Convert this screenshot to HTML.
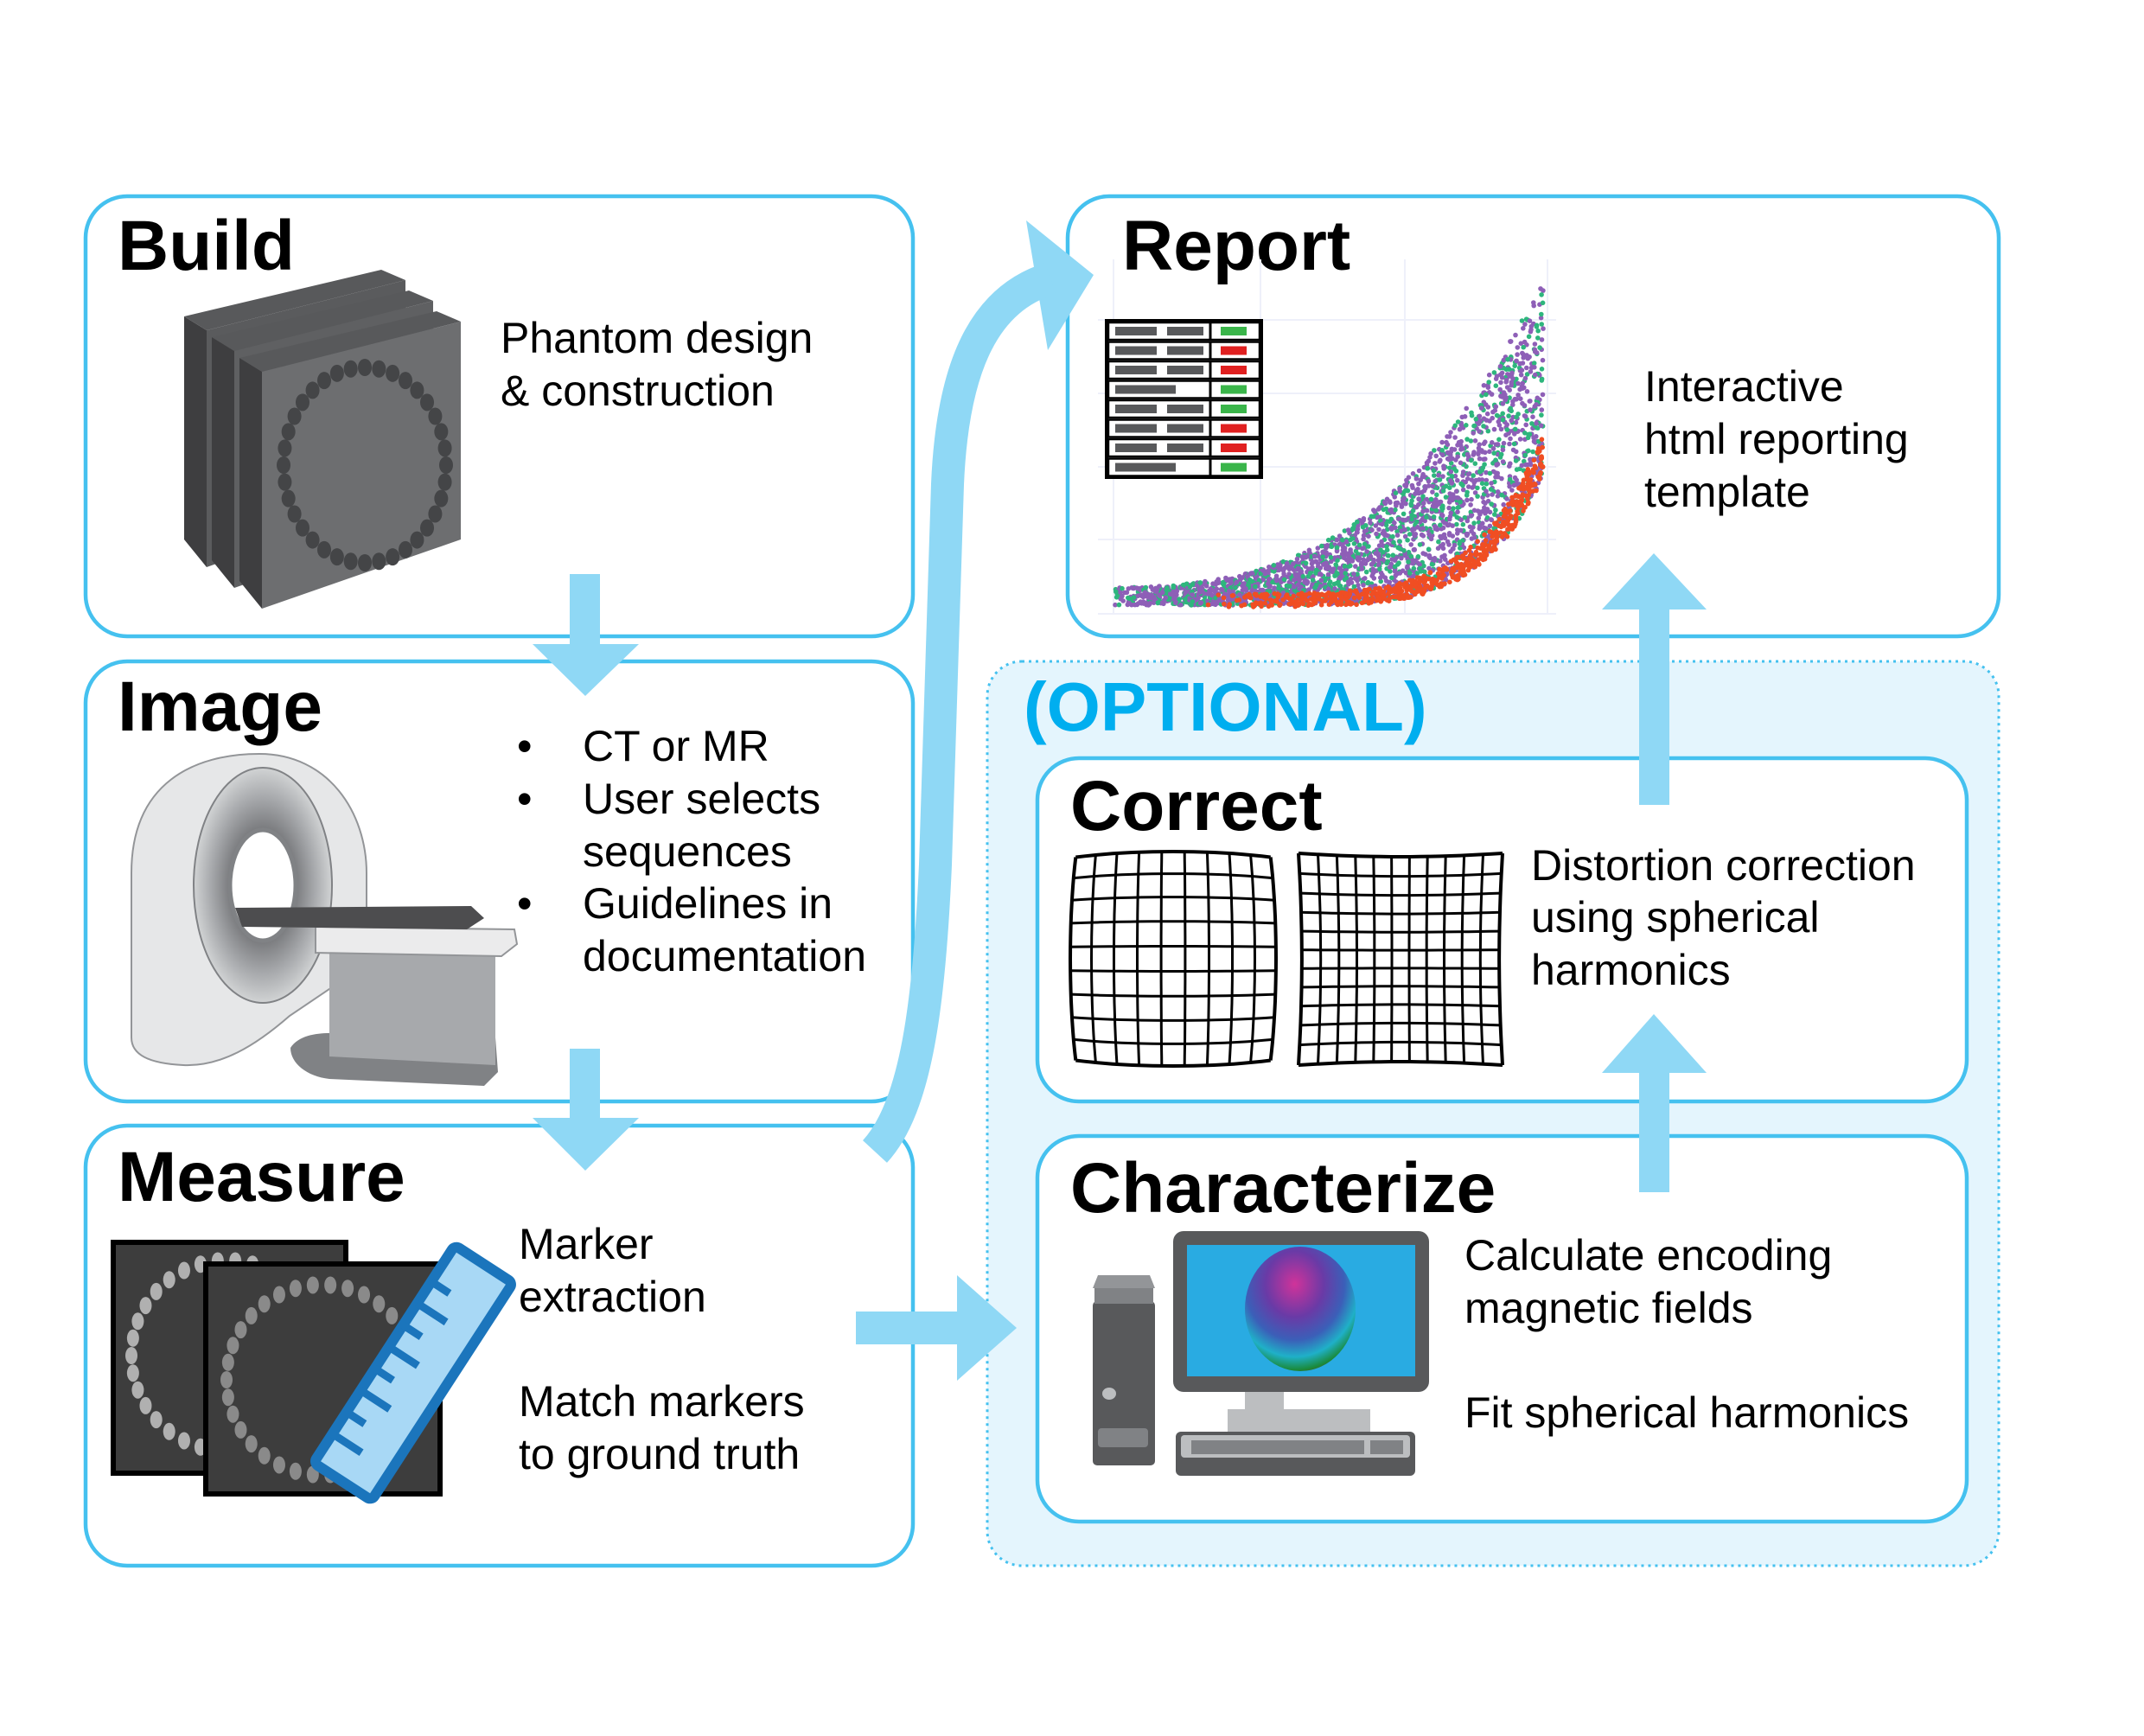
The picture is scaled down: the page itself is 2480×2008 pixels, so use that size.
<!DOCTYPE html>
<html><head><meta charset="utf-8"><style>
html,body{margin:0;padding:0;background:#fff;width:2480px;height:2008px;overflow:hidden}
svg{display:block}
text{font-family:"Liberation Sans",sans-serif;fill:#000}
.t{font-weight:bold;font-size:82px}
.b{font-size:50px}
</style></head><body>
<svg id="s" width="2480" height="2008" viewBox="0 0 2480 2008" xmlns="http://www.w3.org/2000/svg">
<defs>
<radialGradient id="sph" cx="0.45" cy="0.3" r="0.75">
<stop offset="0" stop-color="#d0339a"/><stop offset="0.35" stop-color="#6a3aa6"/><stop offset="0.6" stop-color="#3b5fb8"/><stop offset="0.78" stop-color="#1fb0c8"/><stop offset="0.92" stop-color="#1a8a3a"/><stop offset="1" stop-color="#5a3a20"/>
</radialGradient>
<radialGradient id="ring" cx="0.5" cy="0.5" r="0.5">
<stop offset="0.4" stop-color="#6d6e71"/><stop offset="0.75" stop-color="#a7a9ac"/><stop offset="1" stop-color="#d1d3d4"/>
</radialGradient>
</defs>

<rect x="1142" y="765" width="1170" height="1046" rx="40" fill="#e4f5fd" stroke="#45c1ef" stroke-width="3" stroke-dasharray="3 5"/>

<g fill="#fff" stroke="#45c1ef" stroke-width="4.5">
<rect x="99" y="227" width="957" height="509" rx="48"/>
<rect x="99" y="765" width="957" height="509" rx="48"/>
<rect x="99" y="1302" width="957" height="509" rx="48"/>
<rect x="1235" y="227" width="1077" height="509" rx="48"/>
<rect x="1200" y="877" width="1075" height="397" rx="48"/>
<rect x="1200" y="1314" width="1075" height="446" rx="48"/>
</g>

<g fill="#8fd8f5">
<rect x="659" y="664" width="35" height="82"/><polygon points="616,745 739,745 677,805"/>
<rect x="659" y="1213" width="35" height="82"/><polygon points="616,1293 739,1293 677,1354"/>
<rect x="990" y="1517" width="118" height="38"/><polygon points="1107,1475 1176,1536 1107,1597"/>
<rect x="1896" y="1240" width="35" height="139"/><polygon points="1853,1241 1974,1241 1913,1173"/>
<rect x="1896" y="704" width="35" height="227"/><polygon points="1853,705 1974,705 1913,640"/>
<polygon points="1187,255 1265,318 1212,405"/>
</g>
<path d="M1012,1332 C1060,1280 1075,1160 1082,1000 L1096,560 C1102,420 1140,345 1215,322" fill="none" stroke="#8fd8f5" stroke-width="38"/>

<text class="t" x="136" y="312">Build</text>
<text class="t" x="136" y="845">Image</text>
<text class="t" x="136" y="1389">Measure</text>
<text class="t" x="1298" y="312">Report</text>
<text class="t" x="1184" y="845" style="fill:#00aeef;font-size:80px">(OPTIONAL)</text>
<text class="t" x="1238" y="960">Correct</text>
<text class="t" x="1238" y="1402">Characterize</text>

<text class="b" x="579" y="408">Phantom design</text>
<text class="b" x="579" y="469">&amp; construction</text>
<text class="b" x="598" y="880">•</text><text class="b" x="674" y="880">CT or MR</text>
<text class="b" x="598" y="941">•</text><text class="b" x="674" y="941">User selects</text>
<text class="b" x="674" y="1002">sequences</text>
<text class="b" x="598" y="1062">•</text><text class="b" x="674" y="1062">Guidelines in</text>
<text class="b" x="674" y="1123">documentation</text>
<text class="b" x="600" y="1456">Marker</text>
<text class="b" x="600" y="1517">extraction</text>
<text class="b" x="600" y="1638">Match markers</text>
<text class="b" x="600" y="1699">to ground truth</text>
<text class="b" x="1902" y="464">Interactive</text>
<text class="b" x="1902" y="525">html reporting</text>
<text class="b" x="1902" y="586">template</text>
<text class="b" x="1771" y="1018">Distortion correction</text>
<text class="b" x="1771" y="1078">using spherical</text>
<text class="b" x="1771" y="1139">harmonics</text>
<text class="b" x="1694" y="1469">Calculate encoding</text>
<text class="b" x="1694" y="1530">magnetic fields</text>
<text class="b" x="1694" y="1651">Fit spherical harmonics</text>

<g id="ph"></g>

<path d="M152,1200 L152,1010 C152,905 225,872 300,872 C380,872 424,940 424,1010 L424,1115 L335,1175 C295,1210 255,1234 212,1232 C172,1230 152,1220 152,1200 Z" fill="#e6e7e8" stroke="#939598" stroke-width="2"/>
<ellipse cx="304" cy="1024" rx="80" ry="136" fill="url(#ring)" stroke="#808285" stroke-width="2"/>
<ellipse cx="304" cy="1024" rx="38" ry="64" fill="#fff" stroke="#808285" stroke-width="5"/>
<path d="M336,1212 C345,1198 365,1195 381,1195 L381,1105 L573,1105 L573,1200 L576,1240 L560,1256 L381,1248 C355,1245 336,1230 336,1212 Z" fill="#808285"/>
<polygon points="381,1100 573,1100 573,1232 381,1222" fill="#a7a9ac"/>
<polygon points="365,1072 595,1075 598,1092 580,1106 365,1102" fill="#ebebec" stroke="#939598" stroke-width="2"/>
<polygon points="272,1050 545,1048 560,1062 540,1075 280,1072" fill="#4d4d4f"/>

<rect x="131" y="1437" width="269" height="267" fill="#3d3d3d" stroke="#000" stroke-width="6"/>
<g id="d1"></g>
<rect x="238" y="1462" width="271" height="266" fill="#3d3d3d" stroke="#000" stroke-width="6"/>
<g id="d2"></g>
<g transform="translate(478,1588) rotate(-57)">
<rect x="-150" y="-40" width="300" height="80" rx="6" fill="#a8d8f5" stroke="#1b75bc" stroke-width="12"/>
<g stroke="#1b75bc" stroke-width="9">
<line x1="-110" y1="-40" x2="-110" y2="0"/><line x1="-80" y1="-40" x2="-80" y2="-15"/><line x1="-50" y1="-40" x2="-50" y2="0"/><line x1="-20" y1="-40" x2="-20" y2="-15"/><line x1="10" y1="-40" x2="10" y2="0"/><line x1="40" y1="-40" x2="40" y2="-15"/><line x1="70" y1="-40" x2="70" y2="0"/><line x1="100" y1="-40" x2="100" y2="-15"/>
</g></g>

<g stroke="#eef0fa" stroke-width="2">
<line x1="1288" y1="300" x2="1288" y2="710"/><line x1="1458" y1="300" x2="1458" y2="710"/><line x1="1625" y1="300" x2="1625" y2="710"/><line x1="1790" y1="300" x2="1790" y2="710"/>
<line x1="1270" y1="710" x2="1800" y2="710"/><line x1="1270" y1="624" x2="1800" y2="624"/><line x1="1270" y1="540" x2="1800" y2="540"/><line x1="1270" y1="455" x2="1800" y2="455"/><line x1="1270" y1="370" x2="1800" y2="370"/>
</g>
<g id="sc"></g>
<g id="tb"></g>

<g id="gr" fill="none" stroke="#000" stroke-width="3"></g>

<path d="M1264,1490 L1270,1475 L1330,1475 L1336,1490 Z" fill="#939598"/>
<rect x="1264" y="1505" width="72" height="190" rx="5" fill="#58595b"/>
<rect x="1266" y="1490" width="68" height="18" fill="#808285"/>
<ellipse cx="1283" cy="1612" rx="8" ry="7" fill="#bcbec0"/>
<rect x="1270" y="1652" width="58" height="22" rx="4" fill="#808285"/>
<rect x="1440" y="1600" width="45" height="48" fill="#bcbec0"/>
<rect x="1420" y="1630" width="165" height="28" fill="#bcbec0"/>
<rect x="1357" y="1424" width="296" height="186" rx="12" fill="#58595b"/>
<rect x="1373" y="1440" width="264" height="152" fill="#29abe2"/>
<ellipse cx="1504" cy="1514" rx="64" ry="72" fill="url(#sph)"/>
<rect x="1360" y="1656" width="277" height="51" rx="6" fill="#58595b"/>
<rect x="1366" y="1660" width="265" height="26" rx="4" fill="#bcbec0"/>
<rect x="1378" y="1666" width="200" height="16" fill="#808285"/>
<rect x="1585" y="1666" width="38" height="16" fill="#808285"/>
</svg>
<script>
(function(){
var NS="http://www.w3.org/2000/svg";
function el(p,t,a){var e=document.createElementNS(NS,t);for(var k in a)e.setAttribute(k,a[k]);p.appendChild(e);return e;}
var seed=7;function rnd(){seed=(seed*16807)%2147483647;return seed/2147483647;}
function pts(a){return a.map(function(p){return p[0]+','+p[1]}).join(' ');}
var ph=document.getElementById('ph');
[[-64,-48,'#5a5b5d'],[-32,-24,'#5f6062'],[0,0,'#6d6e70']].forEach(function(o){
 var dx=o[0],dy=o[1];function s(x,y){return [x+dx,y+dy];}
 el(ph,'polygon',{points:pts([s(277,414),s(303,430),s(303,704),s(277,672)]),fill:'#3e3e40'});
 el(ph,'polygon',{points:pts([s(277,414),s(505,360),s(533,372),s(303,430)]),fill:'#58595b'});
 el(ph,'polygon',{points:pts([s(303,430),s(533,372),s(533,624),s(303,704)]),fill:o[2]});
});
for(var i=0;i<36;i++){var a=i/36*2*Math.PI;el(ph,'ellipse',{cx:422+94*Math.cos(a),cy:538+113*Math.sin(a),rx:8,ry:10,fill:'#444547'});}
function ring(id,cx,cy,r,n,c){var g=document.getElementById(id);for(var i=0;i<n;i++){var a=i/n*2*Math.PI;el(g,'ellipse',{cx:cx+r*Math.cos(a),cy:cy+r*Math.sin(a),rx:7,ry:10,fill:c});}}
ring('d1',262,1568,110,34,'#b0b0b0');ring('d2',372,1596,110,34,'#8a8a8a');
var sc=document.getElementById('sc');
for(var i=0;i<2600;i++){var x=Math.pow(rnd(),0.7);var X=1290+x*495;
 var hi=700-(20+340*Math.pow(x,2.8))-15*x;var lo=700-150*Math.pow(x,7);
 var t=rnd();var y=lo-(lo-hi)*Math.pow(t,1.1);var c=rnd()<0.35?'#2eb67d':'#8e5fb7';
 el(sc,'circle',{cx:X.toFixed(1),cy:y.toFixed(1),r:2.8,fill:c});}
for(var i=0;i<600;i++){var x=0.2+0.8*Math.pow(rnd(),0.6);var X=1290+x*495;var lo=702-150*Math.pow(x,7);var y=lo-rnd()*(15+35*Math.pow(x,5));
 el(sc,'circle',{cx:X.toFixed(1),cy:y.toFixed(1),r:2.8,fill:'#f04e23'});}
var tb=document.getElementById('tb');
el(tb,'rect',{x:1280,y:371,width:179,height:181,fill:'#fff',stroke:'#000','stroke-width':4});
var cols=['#3ab54a','#e02020','#e02020','#3ab54a','#3ab54a','#e02020','#e02020','#3ab54a'];
for(var r=0;r<8;r++){var y=373+r*22.5;el(tb,'rect',{x:1282,y:y,width:175,height:20,fill:'#fff',stroke:'#000','stroke-width':2.5});
 el(tb,'line',{x1:1400,y1:y,x2:1400,y2:y+20,stroke:'#000','stroke-width':3});
 el(tb,'rect',{x:1290,y:y+5,width:r%4==3?70:48,height:10,fill:'#58595b'});
 if(r%4!=3)el(tb,'rect',{x:1350,y:y+5,width:42,height:10,fill:'#58595b'});
 el(tb,'rect',{x:1412,y:y+5,width:30,height:10,fill:cols[r]});}
var gr=document.getElementById('gr');
function grid(x0,y0,w,h,n,k){var cx=x0+w/2,cy=y0+h/2;var nm=Math.max(1+k,1+2*k);
 function m(u,v){var r2=u*u+v*v;var f=(1+k*r2)/nm;return [(cx+u*w/2*f).toFixed(1),(cy+v*h/2*f).toFixed(1)];}
 for(var i=0;i<=n;i++){var s=-1+2*i/n;var p1=[],p2=[];
  for(var j=0;j<=20;j++){var t=-1+2*j/20;p1.push(m(s,t));p2.push(m(t,s));}
  var sw=(i==0||i==n)?4:3;el(gr,'polyline',{points:pts(p1),'stroke-width':sw});el(gr,'polyline',{points:pts(p2),'stroke-width':sw});}}
grid(1238,985,238,248,9,-0.05);grid(1502,987,236,245,11,0.035);
})();
</script>
</body></html>
